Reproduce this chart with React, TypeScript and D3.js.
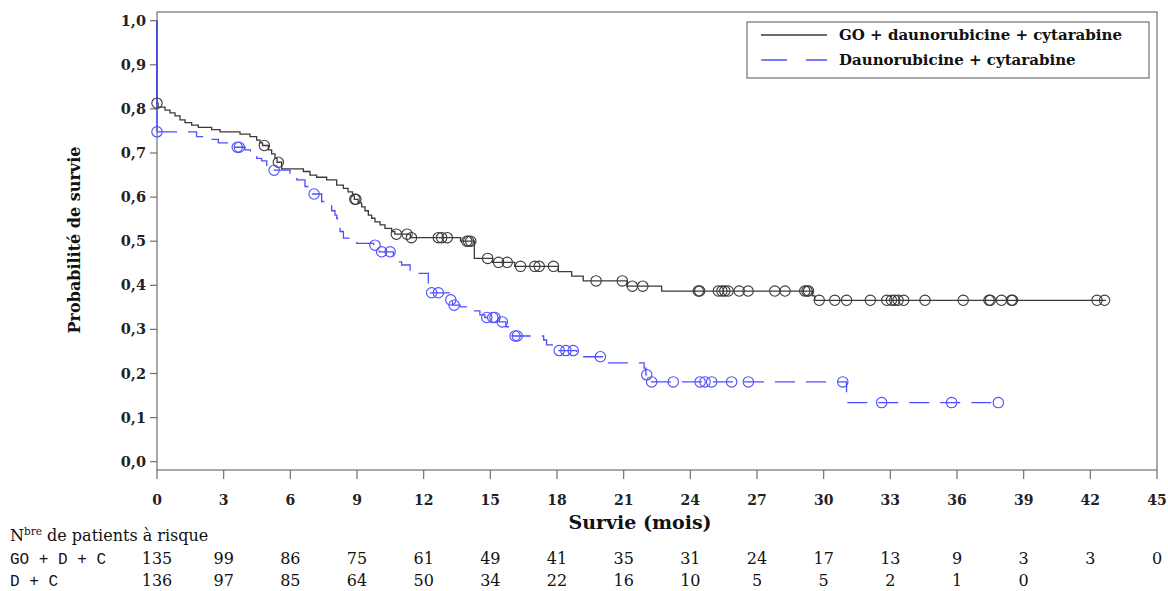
import React from "react";
import * as d3 from "d3";

// ---- Data ----
const goTimes = [0, 0.05, 0.36, 0.585, 0.81, 1.035, 1.26, 1.56, 1.86, 2.46, 2.835, 3.735, 4.185, 4.485, 4.635, 4.75, 5.01, 5.16, 5.31, 5.4, 5.61, 6.585, 6.885, 7.185, 7.635, 8.085, 8.385, 8.6, 8.8, 8.88, 9.05, 9.21, 9.36, 9.51, 9.66, 9.81, 10.04, 10.26, 10.56, 10.7, 11.4, 13.66, 14.28, 15.1, 16.1, 18.06, 18.66, 19.18, 21.15, 22.71, 29.5, 29.6];
const goSurv = [0.813, 0.804, 0.797, 0.791, 0.784, 0.775, 0.769, 0.763, 0.758, 0.753, 0.748, 0.743, 0.737, 0.729, 0.723, 0.717, 0.707, 0.698, 0.688, 0.679, 0.664, 0.658, 0.65, 0.645, 0.639, 0.627, 0.62, 0.612, 0.603, 0.595, 0.587, 0.578, 0.569, 0.559, 0.552, 0.544, 0.537, 0.529, 0.522, 0.516, 0.508, 0.5, 0.461, 0.452, 0.443, 0.431, 0.421, 0.41, 0.398, 0.387, 0.376, 0.366];
const goEnd = 42.7;
const goCensor = [0, 4.83, 5.46, 8.9, 8.95, 10.77, 11.25, 11.45, 12.66, 12.81, 13.06, 13.94, 14.02, 14.12, 14.88, 15.37, 15.76, 16.36, 17.0, 17.2, 17.84, 19.76, 20.94, 21.39, 21.86, 24.36, 24.42, 25.26, 25.42, 25.55, 25.7, 26.2, 26.6, 27.8, 28.26, 29.15, 29.25, 29.32, 29.8, 30.5, 31.03, 32.1, 32.84, 33.05, 33.2, 33.35, 33.6, 34.56, 36.28, 37.44, 37.5, 38.0, 38.45, 38.5, 42.3, 42.64];

const dcTimes = [0, 1.78, 2.08, 2.76, 3.5, 3.96, 4.2, 4.49, 4.71, 4.94, 5.2, 5.985, 6.29, 6.66, 6.89, 7.0, 7.41, 7.64, 7.86, 8.01, 8.09, 8.12, 8.24, 8.39, 8.99, 9.75, 10.0, 10.64, 11.01, 11.39, 12.21, 12.3, 13.15, 13.3, 13.64, 14.01, 14.53, 14.75, 15.4, 15.7, 16.0, 17.4, 17.53, 18.0, 18.89, 20.2, 21.92, 22.0, 22.2, 31.03];
const dcSurv = [0.748, 0.737, 0.731, 0.723, 0.713, 0.707, 0.7, 0.688, 0.682, 0.672, 0.661, 0.645, 0.639, 0.624, 0.618, 0.607, 0.59, 0.58, 0.569, 0.559, 0.552, 0.541, 0.522, 0.507, 0.495, 0.491, 0.476, 0.453, 0.446, 0.427, 0.393, 0.383, 0.367, 0.355, 0.351, 0.342, 0.333, 0.327, 0.317, 0.306, 0.285, 0.276, 0.265, 0.252, 0.238, 0.224, 0.212, 0.197, 0.181, 0.134];
const dcEnd = 37.86;
const dcCensor = [0, 3.61, 3.7, 5.27, 7.07, 9.81, 10.11, 10.49, 12.36, 12.66, 13.22, 13.37, 14.84, 15.11, 15.21, 15.54, 16.11, 16.21, 18.1, 18.4, 18.73, 19.95, 22.04, 22.26, 23.23, 24.44, 24.66, 24.96, 25.86, 26.61, 30.86, 32.61, 35.76, 37.86];

const xTicks = [0, 3, 6, 9, 12, 15, 18, 21, 24, 27, 30, 33, 36, 39, 42, 45];
const yTicks = [0, 0.1, 0.2, 0.3, 0.4, 0.5, 0.6, 0.7, 0.8, 0.9, 1.0];
const riskGO = ["135", "99", "86", "75", "61", "49", "41", "35", "31", "24", "17", "13", "9", "3", "3", "0"];
const riskDC = ["136", "97", "85", "64", "50", "34", "22", "16", "10", "5", "5", "2", "1", "0"];
const seriesNames = ["GO + daunorubicine + cytarabine", "Daunorubicine + cytarabine"];
const rowNames = ["GO + D + C", "D + C"];

// ---- Layout ----
const W = 1168, H = 591;
const L = 157, R = 1157, T = 12, B = 470;
const x = d3.scaleLinear().domain([0, 45]).range([L, R]);
const y = d3.scaleLinear().domain([0, 1]).range([461.7, 20.7]);

const BLACK = "#3a3a3a";
const BLUE = "#4d4dff";
const AXIS = "#707070";
const SERIF = "'DejaVu Serif', 'Liberation Serif', serif";
const MONO = "'Liberation Mono', 'DejaVu Sans Mono', monospace";

function stepPoints(times: number[], surv: number[], end: number, withStart: boolean): [number, number][] {
  const pts: [number, number][] = withStart ? [[0, 1]] : [];
  times.forEach((t, i) => pts.push([t, surv[i]]));
  pts.push([end, surv[surv.length - 1]]);
  return pts;
}
function survAt(times: number[], surv: number[], t: number) {
  let s = 1;
  for (let i = 0; i < times.length; i++) if (times[i] <= t) s = surv[i];
  return s;
}

const line = d3
  .line<[number, number]>()
  .x((d) => x(d[0]))
  .y((d) => y(d[1]))
  .curve(d3.curveStepAfter);

export default function App() {
  const goPath = line(stepPoints(goTimes, goSurv, goEnd, true)) || "";
  const dcPath = line(stepPoints(dcTimes, dcSurv, dcEnd, false)) || "";
  const fmt = (v: number) => v.toFixed(1).replace(".", ",");
  return (
    <svg width={W} height={H} style={{ position: "absolute", left: 0, top: 0, background: "#fff" }} fontFamily={SERIF}>
      {/* frame */}
      <rect x={L} y={T} width={R - L} height={B - T} fill="none" stroke={AXIS} strokeWidth={1.2} />
      {/* y ticks */}
      {yTicks.map((v) => (
        <g key={"y" + v}>
          <line x1={L - 7} x2={L} y1={y(v)} y2={y(v)} stroke={AXIS} strokeWidth={1.2} />
          <text x={L - 11} y={y(v)} dy="0.35em" textAnchor="end" fontSize={14.5} fontWeight="bold" fill="#222">
            {fmt(v)}
          </text>
        </g>
      ))}
      {/* x ticks */}
      {xTicks.map((v) => (
        <g key={"x" + v}>
          <line x1={x(v)} x2={x(v)} y1={B} y2={B + 9} stroke={AXIS} strokeWidth={1.2} />
          <text x={x(v)} y={505} textAnchor="middle" fontSize={14} fontWeight="bold" fill="#222">
            {v}
          </text>
        </g>
      ))}
      <text x={640} y={529} textAnchor="middle" fontSize={19} fontWeight="bold" fill="#111">
        Survie (mois)
      </text>
      <text transform="translate(80,240) rotate(-90)" textAnchor="middle" fontSize={16} fontWeight="bold" fill="#111">
        Probabilité de survie
      </text>

      {/* curves */}
      <path d={goPath} fill="none" stroke={BLACK} strokeWidth={1.3} />
      <line x1={x(0)} x2={x(0)} y1={y(1)} y2={y(dcSurv[0])} stroke={BLUE} strokeWidth={1.5} />
      <path d={dcPath} fill="none" stroke={BLUE} strokeWidth={1.3} strokeDasharray="20,11" />
      {goCensor.map((t, i) => (
        <circle key={"gc" + i} cx={x(t)} cy={y(survAt(goTimes, goSurv, t))} r={5.2} fill="none" stroke={BLACK} strokeWidth={1.1} />
      ))}
      {dcCensor.map((t, i) => (
        <circle key={"dc" + i} cx={x(t)} cy={y(survAt(dcTimes, dcSurv, t))} r={5.2} fill="none" stroke={BLUE} strokeWidth={1.1} />
      ))}

      {/* legend */}
      <rect x={747} y={22} width={402} height={56} fill="#fff" stroke={AXIS} strokeWidth={1.2} />
      <line x1={761} x2={827} y1={35} y2={35} stroke={BLACK} strokeWidth={1.3} />
      <line x1={761} x2={827} y1={60} y2={60} stroke={BLUE} strokeWidth={1.3} strokeDasharray="26,19" />
      <text x={839} y={35} dy="0.35em" fontSize={15} fontWeight="bold" fill="#111">{seriesNames[0]}</text>
      <text x={839} y={60} dy="0.35em" fontSize={15} fontWeight="bold" fill="#111">{seriesNames[1]}</text>

      {/* risk table */}
      <text x={10} y={541} fontSize={16} fill="#111">
        N<tspan fontSize={10.5} dy={-6}>bre</tspan>
        <tspan dy={6}> de patients à risque</tspan>
      </text>
      <text x={10} y={564} fontSize={16} fill="#111" fontFamily={MONO}>{rowNames[0]}</text>
      <text x={10} y={586} fontSize={16} fill="#111" fontFamily={MONO}>{rowNames[1]}</text>
      {riskGO.map((v, i) => (
        <text key={"rg" + i} x={x(xTicks[i])} y={564} textAnchor="middle" fontSize={16} fill="#111">{v}</text>
      ))}
      {riskDC.map((v, i) => (
        <text key={"rd" + i} x={x(xTicks[i])} y={586} textAnchor="middle" fontSize={16} fill="#111">{v}</text>
      ))}
    </svg>
  );
}
